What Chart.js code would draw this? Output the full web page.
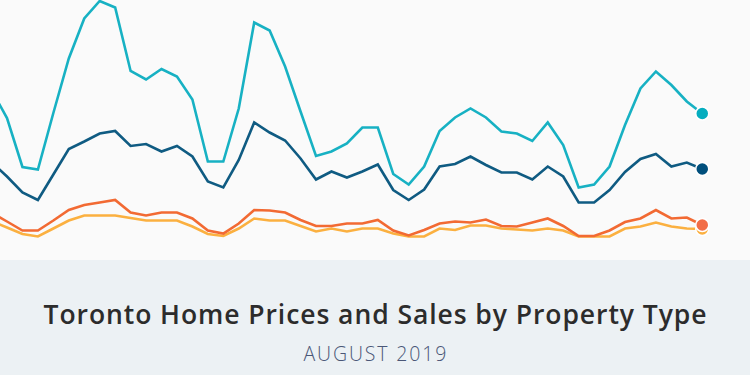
<!DOCTYPE html>
<html>
<head>
<meta charset="utf-8">
<script src="https://cdn.jsdelivr.net/npm/chart.js@4.4.1/dist/chart.umd.min.js"></script>
<style>
  html, body { margin: 0; padding: 0; background: #fafafa; }
  #wrap { position: relative; width: 750px; height: 375px; overflow: hidden; background: #fafafa; }
  #chartBox { position: absolute; left: 0; top: 0; width: 750px; height: 260px; }
  #band { position: absolute; left: 0; top: 260px; width: 750px; height: 115px; background: #ecf1f4; }
  #title { position: absolute; left: 0; width: 750px; top: 300.5px; text-align: center; white-space: nowrap;
           font-family: "Open Sans", Lato, sans-serif; font-weight: 600; font-size: 26.5px; line-height: 26.5px; color: #2c2c2c; }
  #subtitle { position: absolute; left: 0; width: 750px; top: 343.7px; text-align: center; white-space: nowrap;
           font-family: "Open Sans", Lato, sans-serif; font-weight: 300; font-size: 19.5px; line-height: 19.5px; color: #4a5777; }
</style>
</head>
<body>
<div id="wrap">
  <div id="chartBox"><canvas id="c" width="750" height="260"></canvas></div>
  <div id="band"></div>
  <div id="title">Toronto Home Prices and Sales by Property Type</div>
  <div id="subtitle">AUGUST 2019</div>
</div>
<script>
// Monthly categories (Oct 2015 is just off the left edge)
const months = [
  "Oct 2015","Nov 2015","Dec 2015",
  "Jan 2016","Feb 2016","Mar 2016","Apr 2016","May 2016","Jun 2016","Jul 2016","Aug 2016","Sep 2016","Oct 2016","Nov 2016","Dec 2016",
  "Jan 2017","Feb 2017","Mar 2017","Apr 2017","May 2017","Jun 2017","Jul 2017","Aug 2017","Sep 2017","Oct 2017","Nov 2017","Dec 2017",
  "Jan 2018","Feb 2018","Mar 2018","Apr 2018","May 2018","Jun 2018","Jul 2018","Aug 2018","Sep 2018","Oct 2018","Nov 2018","Dec 2018",
  "Jan 2019","Feb 2019","Mar 2019","Apr 2019","May 2019","Jun 2019","Jul 2019","Aug 2019"
];

// Series values
const seriesTeal = [3400,2840,1860,1810,2940,4030,4830,5180,5050,3780,3610,3820,3670,3210,1970,1970,3030,4750,4590,3870,2970,2080,2170,2330,2650,2650,1720,1510,1870,2580,2850,3030,2850,2570,2530,2380,2750,2300,1450,1510,1870,2700,3430,3770,3500,3170,2930];
const seriesNavy = [1960,1670,1350,1200,1710,2220,2370,2530,2580,2280,2320,2170,2280,2070,1570,1450,2000,2750,2550,2390,2030,1610,1770,1650,1770,1910,1400,1200,1410,1870,1920,2070,1900,1750,1750,1610,1870,1670,1150,1150,1400,1760,2020,2120,1870,1950,1820];
const seriesOrange = [950,770,590,590,790,1000,1100,1150,1200,950,890,950,950,830,590,530,730,1000,990,950,800,680,680,730,730,800,590,490,600,730,770,750,810,680,670,750,830,680,480,480,590,760,830,1000,830,850,700];
const seriesYellow = [780,650,520,470,630,790,890,890,890,840,790,790,790,670,520,480,630,830,790,790,680,570,630,570,630,630,530,470,470,630,600,690,690,630,610,590,630,590,470,470,470,630,670,750,670,630,620];

const lineColors = ["#17b1c3", "#0f5b82", "#f26a33", "#fbb040"];
const dotColors  = ["#05adbf", "#004f7c", "#f26d47", "#fbb040"];
const allSeries  = [seriesTeal, seriesNavy, seriesOrange, seriesYellow];

const lastIdx = months.length - 1;
const datasets = allSeries.map((vals, k) => ({
  label: "s" + k,
  data: vals.map((v, i) => ({ x: i, y: v })),
  borderColor: lineColors[k],
  borderWidth: 2.6,
  tension: 0,
  fill: false,
  clip: false,
  pointRadius: ctx => ctx.dataIndex === lastIdx ? 6.5 : 0,
  pointBackgroundColor: dotColors[k],
  pointBorderColor: "#ffffff",
  pointBorderWidth: 1.5,
  pointHoverRadius: 0
}));

new Chart(document.getElementById("c"), {
  type: "line",
  data: { datasets },
  options: {
    responsive: false,
    animation: false,
    devicePixelRatio: 1,
    layout: { padding: 0, autoPadding: false },
    plugins: { legend: { display: false }, tooltip: { enabled: false }, title: { display: false } },
    events: [],
    scales: {
      x: { type: "linear", display: false, min: 0.547, max: 49.09 },
      y: { type: "linear", display: false, min: 0, max: 5200 }
    }
  }
});

// Fit title texts to the reference widths via letter spacing
function fitWidth(el, target) {
  const cs = getComputedStyle(el);
  const cv = document.createElement("canvas").getContext("2d");
  cv.font = cs.fontWeight + " " + cs.fontSize + " " + cs.fontFamily;
  const txt = el.textContent;
  const w = cv.measureText(txt).width;
  const ls = (target - w) / (txt.length - 1);
  el.style.letterSpacing = ls.toFixed(2) + "px";
  el.style.textIndent = ls.toFixed(2) + "px";
}
const doFit = () => {
  fitWidth(document.getElementById("title"), 663);
  fitWidth(document.getElementById("subtitle"), 143);
};
if (document.fonts && document.fonts.ready) { document.fonts.ready.then(doFit); } else { doFit(); }
</script>
</body>
</html>
